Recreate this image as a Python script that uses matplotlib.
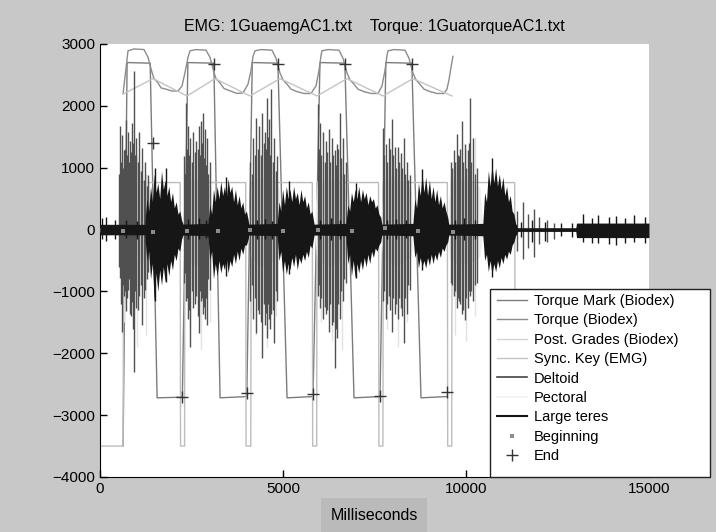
import matplotlib
matplotlib.use('Agg')
import matplotlib.pyplot as plt
from matplotlib.lines import Line2D
from matplotlib.patches import Rectangle

plt.rcParams['font.family'] = ['Liberation Sans', 'DejaVu Sans']

# ---- Biodex channels ----
# Torque Mark: square wave with End marks at the plateau ends
mark_t = [630, 740, 1370, 1560, 2250, 2400, 3110, 3280, 4010, 4160, 4860, 5110,
          5820, 6010, 6690, 6940, 7650, 7810, 8520, 8770, 9480]
mark_y = [-3500, 2700, 2690, -2720, -2710, 2700, 2690, -2720, -2700, 2700, 2690, -2720,
          -2700, 2700, 2690, -2720, -2700, 2700, 2690, -2720, -2700]

# Torque (Biodex)
torque_t = [630, 765, 929, 1202, 1311, 1421, 1475, 1585, 1667, 1803, 1967, 2131, 2240, 2322, 2404,
            2459, 2623, 2896, 3005, 3114, 3169, 3278, 3388, 3524, 3743, 3907, 4043, 4125, 4180,
            4235, 4399, 4699, 4808, 4918, 5000, 5109, 5218, 5382, 5573, 5765, 5901, 5983, 6038,
            6065, 6229, 6529, 6639, 6748, 6830, 6939, 7048, 7212, 7404, 7595, 7704, 7786, 7841,
            7868, 8032, 8333, 8442, 8551, 8633, 8742, 8852, 9016, 9207, 9398, 9480, 9535, 9590, 9644]
torque_y = [2200, 2890, 2920, 2910, 2785, 2540, 2440, 2370, 2290, 2270, 2240, 2240, 2320, 2540, 2785,
            2890, 2910, 2900, 2785, 2540, 2440, 2370, 2280, 2250, 2200, 2210, 2350, 2570, 2800,
            2890, 2910, 2900, 2770, 2530, 2420, 2350, 2270, 2230, 2200, 2200, 2320, 2570, 2810,
            2890, 2910, 2900, 2770, 2530, 2420, 2350, 2270, 2230, 2200, 2200, 2320, 2570, 2810,
            2890, 2910, 2900, 2770, 2530, 2420, 2350, 2270, 2230, 2200, 2200, 2270, 2420, 2620, 2800]

# Post. Grades (Biodex): triangle wave
grades_t = [630, 1448, 2377, 3142, 4098, 4918, 5928, 6748, 7732, 8551, 9617]
grades_y = [2190, 2440, 2160, 2440, 2160, 2440, 2160, 2440, 2160, 2440, 2160]

# Sync. Key (EMG)
sync_t = [0, 630, 650, 2190, 2200, 2310, 2320, 3980, 3990, 4120, 4130, 5800, 5810, 5920, 5930,
          7610, 7620, 7730, 7740, 9490, 9500, 9610, 9620, 11330, 11350, 15000]
sync_y = [-3500, -3500, 760, 760, -3500, -3500, 760, 760, -3500, -3500, 760, 760, -3500, -3500, 760,
          760, -3500, -3500, 760, 760, -3500, -3500, 760, 760, -3500, -3500]

# ---- EMG channels ----
# Deltoid spikes: time, peak, trough
delt_t = [520, 546, 575, 601, 630, 656, 683, 710, 738, 765, 793, 820, 847, 874, 900, 929, 957, 984,
          1025, 1065, 1106, 1147, 1188, 1229, 1270, 1311,
          2295, 2322, 2350, 2377, 2404, 2431, 2459, 2500, 2541, 2582, 2623, 2664, 2705, 2733, 2760,
          2787, 2814, 2841, 2869, 2896, 2923, 2964, 3005,
          4098, 4139, 4180, 4221, 4262, 4303, 4344, 4385, 4426, 4467, 4508, 4535, 4563, 4590, 4617,
          4645, 4672, 4713, 4754, 4795, 4836,
          5956, 5983, 6010, 6051, 6093, 6134, 6175, 6215, 6256, 6297, 6338, 6379, 6420, 6448, 6475,
          6516, 6557, 6598, 6639, 6680, 6721,
          7732, 7772, 7813, 7854, 7895, 7936, 7977, 8018, 8059, 8100, 8141, 8182, 8223, 8264, 8305,
          8346, 8387, 8428, 8469,
          9589, 9630, 9671, 9712, 9753, 9780, 9808, 9849, 9890, 9931, 9972, 10013, 10054, 10081,
          10108, 10149, 10190, 10245, 10300,
          11400, 11550, 11700, 11850, 12000, 12200, 12400]
delt_hi = [900, 1680, 1100, 1530, 1000, 1290, 1300, 1770, 1200, 1580, 1100, 1430, 1250, 1730, 1400,
           2560, 1200, 1480, 1100, 1580, 950, 1320, 800, 1090, 700, 890,
           1190, 900, 2040, 1300, 1680, 1200, 1480, 1100, 1580, 1250, 1430, 1300, 1680, 1200, 1760,
           1400, 1880, 1150, 1630, 1050, 1480, 900, 1090,
           1090, 900, 1480, 1200, 1810, 1300, 1680, 1200, 1880, 1400, 1580, 1300, 2130, 1500, 1780,
           1200, 2270, 1100, 1480, 950, 1190,
           2030, 1300, 1730, 1200, 1580, 1100, 1430, 1250, 1630, 1100, 1480, 1200, 1290, 1050, 1380,
           1300, 1880, 1150, 1480, 900, 1090,
           1640, 1200, 1380, 1100, 1480, 1300, 1780, 1200, 1330, 1000, 1330, 1100, 1240, 1000, 1480,
           900, 1090, 800, 890,
           1090, 1000, 1290, 1100, 1540, 1200, 1190, 1300, 1760, 1100, 1380, 1000, 1290, 1400,
           2130, 1100, 1480, 900, 990,
           300, 440, 250, 340, 200, 150, 100]
delt_lo = [-600, -780, -1200, -1650, -900, -1070, -1000, -1310, -1100, -970, -800, -1360, -1400, -1170,
           -1600, -2300, -1000, -1260, -1300, -1070, -900, -1550, -1100, -970, -800, -680,
           -870, -700, -1160, -1100, -1450, -1300, -1900, -1000, -1260, -1200, -1070, -1400, -1680,
           -1000, -1160, -1100, -1360, -1250, -1450, -1100, -1550, -800, -970,
           -1160, -900, -1450, -1100, -1680, -1300, -1360, -1500, -2080, -1200, -1550, -1350, -1750,
           -1200, -1450, -1600, -1360, -1300, -1840, -1000, -1160,
           -1070, -900, -1260, -1100, -1450, -1250, -1360, -1300, -1650, -1200, -1550, -1500, -2230,
           -1600, -1750, -1200, -1450, -1000, -1160, -800, -870,
           -1160, -1000, -1450, -1200, -1070, -1300, -1650, -1100, -1360, -1200, -1450, -1100, -1260,
           -1400, -1830, -1100, -1360, -900, -970,
           -870, -900, -1070, -1000, -1260, -1100, -1160, -1200, -1360, -1300, -1470, -1100, -1260,
           -1000, -1070, -1000, -1160, -900, -870,
           -340, -480, -290, -440, -240, -200, -150]

# Pectoral envelope and spikes
pect_t = [0, 480, 560, 800, 1100, 1330, 1420,
          2250, 2330, 2570, 2840, 3030, 3110,
          4050, 4130, 4400, 4670, 4890, 4970,
          5850, 5930, 6200, 6480, 6690, 6770,
          7660, 7740, 8010, 8290, 8500, 8580,
          9480, 9560, 9830, 10100, 10380, 10460,
          11400, 15000]
pect_hi = [40, 60, 700, 790, 770, 740, 60,
           60, 780, 830, 780, 690, 60,
           60, 790, 830, 790, 690, 60,
           60, 790, 830, 790, 690, 60,
           60, 790, 830, 790, 690, 60,
           60, 790, 830, 790, 690, 60,
           40, 20]
pect_lo = [-40, -60, -450, -580, -540, -500, -60,
           -60, -480, -580, -540, -440, -60,
           -60, -480, -580, -540, -440, -60,
           -60, -480, -580, -540, -440, -60,
           -60, -480, -580, -540, -440, -60,
           -60, -480, -580, -540, -440, -60,
           -40, -20]
pspk_t = [650, 1000, 1250, 2450, 2750, 3000, 4250, 4550, 4800,
          6050, 6350, 6600, 7850, 8150, 8400, 9700, 10000, 10250]
pspk_hi = [1000, 1200, 900, 1100, 1300, 1000, 1200, 1000, 900,
           1100, 1300, 900, 1000, 1200, 900, 1100, 1300, 1500]
pspk_lo = [-1500, -1900, -1700, -1600, -1950, -1500, -1700, -1900, -1400,
           -1500, -1800, -1950, -1600, -1900, -1500, -1700, -1800, -1400]

# Large teres: baseline band, ragged bursts, extra spikes
base_t = [0, 11380, 11400, 13000, 13020, 15000]
base_hi = [85, 85, 30, 30, 105, 105]
base_lo = [-85, -85, -30, -30, -130, -130]

burst_t = [1230, 1280, 1330, 1380, 1430, 1480, 1530, 1580, 1630, 1680, 1730, 1780, 1830, 1880,
           1930, 1980, 2030, 2080, 2130, 2180, 2230, 2270,
           2950, 3000, 3050, 3100, 3150, 3200, 3250, 3300, 3350, 3400, 3450, 3500, 3550, 3600,
           3650, 3700, 3750, 3800, 3850, 3900, 3950, 4000, 4050, 4070,
           4840, 4890, 4940, 4990, 5040, 5090, 5140, 5190, 5240, 5290, 5340, 5390, 5440, 5490,
           5540, 5590, 5640, 5690, 5740, 5790, 5850,
           6720, 6770, 6820, 6870, 6920, 6970, 7020, 7070, 7120, 7170, 7220, 7270, 7320, 7370,
           7420, 7470, 7520, 7570, 7620, 7670, 7700,
           8550, 8600, 8650, 8700, 8750, 8800, 8850, 8900, 8950, 9000, 9050, 9100, 9150, 9200,
           9250, 9300, 9350, 9400, 9450, 9500, 9530,
           10460, 10510, 10560, 10610, 10660, 10710, 10760, 10810, 10860, 10910, 10960, 11010,
           11060, 11110, 11160, 11210, 11260, 11310, 11360]
burst_hi = [150, 500, 300, 700, 450, 900, 600, 750, 500, 950, 650, 800, 550, 700,
            450, 600, 350, 450, 250, 300, 150, 85,
            100, 400, 250, 650, 450, 700, 500, 780, 550, 700, 500, 820, 600, 700,
            450, 650, 400, 550, 350, 450, 250, 300, 150, 85,
            100, 450, 300, 650, 400, 700, 500, 650, 450, 700, 500, 600, 400, 650,
            450, 550, 350, 450, 250, 300, 85,
            100, 400, 300, 600, 450, 650, 500, 700, 450, 650, 500, 600, 400, 550,
            450, 500, 350, 400, 250, 200, 85,
            100, 500, 350, 750, 550, 900, 600, 850, 550, 800, 500, 700, 450, 650,
            400, 550, 350, 450, 300, 200, 85,
            100, 600, 450, 950, 700, 1050, 750, 1000, 700, 900, 650, 850,
            550, 700, 450, 550, 300, 250, 85]
burst_lo = [-150, -500, -350, -800, -550, -1150, -700, -1000, -650, -900, -600, -850, -550, -750,
            -500, -650, -400, -500, -300, -350, -150, -85,
            -100, -500, -350, -800, -550, -750, -500, -700, -550, -650, -450, -700, -500, -600,
            -400, -550, -350, -500, -300, -400, -250, -250, -150, -85,
            -100, -500, -350, -700, -500, -720, -550, -650, -450, -600, -400, -650, -450, -550,
            -400, -500, -350, -450, -250, -300, -85,
            -100, -550, -400, -750, -500, -780, -550, -700, -500, -650, -450, -600, -400, -550,
            -350, -450, -300, -350, -250, -200, -85,
            -100, -450, -350, -620, -450, -600, -500, -620, -450, -580, -400, -550, -400, -500,
            -350, -450, -300, -350, -250, -200, -85,
            -100, -500, -400, -680, -500, -720, -550, -680, -500, -620, -450, -550,
            -400, -480, -350, -400, -250, -200, -85]

tspk_t = [1500, 1800, 3450, 5150, 7000, 8800, 10700,
          60, 150, 400, 700, 1000, 2400, 2700, 2900, 4300, 4500, 4700, 6000, 6300, 6550,
          7850, 8100, 8350, 9700, 9950, 10250, 11500, 11800, 12150, 12600, 12900,
          13200, 13450, 13600, 13900, 14100, 14350, 14600, 14900]
tspk_hi = [1000, 1000, 850, 780, 760, 980, 1150,
           180, 200, 150, 160, 140, 170, 180, 150, 160, 170, 140, 150, 180, 160,
           150, 170, 150, 160, 180, 150, 120, 150, 120, 100, 100,
           250, 180, 230, 200, 220, 190, 240, 200]
tspk_lo = [-1150, -850, -750, -720, -780, -650, -760,
           -160, -180, -150, -140, -160, -150, -160, -140, -150, -150, -160, -150, -170, -150,
           -160, -160, -140, -150, -170, -150, -120, -200, -180, -100, -120,
           -200, -220, -220, -240, -250, -210, -200, -220]

# Event markers
begin_t = [630, 1450, 2380, 3225, 4100, 5000, 5960, 6890, 7790, 8690, 9650]
begin_y = [-20, -45, -30, -20, -10, -25, -15, -25, 20, -25, -40]
end_t = [1450, 2240, 3110, 4010, 4860, 5820, 6690, 7650, 8520, 9480]
end_y = [1400, -2700, 2680, -2640, 2680, -2660, 2680, -2690, 2680, -2630]

fig = plt.figure(figsize=(7.16, 5.32), dpi=100, facecolor='#c8c8c8')
ax = fig.add_axes([0.1397, 0.1034, 0.7667, 0.8139])

ax.plot(mark_t, mark_y, color='#7c7c7c', lw=1, zorder=2)
ax.plot(torque_t, torque_y, color='#8c8c8c', lw=1, zorder=2)
ax.plot(grades_t, grades_y, color='#c4c4c4', lw=1, zorder=2)
ax.plot(sync_t, sync_y, color='#bdbdbd', lw=1, zorder=2)

ax.fill_between(pect_t, pect_lo, pect_hi, color='#eeeeee', lw=0, zorder=3)
ax.vlines(pspk_t, pspk_lo, pspk_hi, color='#e2e2e2', lw=1, zorder=3)
ax.vlines(delt_t, delt_lo, delt_hi, color='#505050', lw=1, zorder=4)
ax.fill_between(base_t, base_lo, base_hi, color='#161616', lw=0, zorder=5)
ax.fill_between(burst_t, burst_lo, burst_hi, color='#161616', lw=0, zorder=5)
ax.vlines(tspk_t, tspk_lo, tspk_hi, color='#161616', lw=1, zorder=5)

ax.plot(begin_t, begin_y, 's', color='#8c8c8c', ms=3, mew=0, zorder=6)
ax.plot(end_t, end_y, '+', color='#333333', ms=9, mew=1, zorder=6)

ax.set_xlim(0, 15000)
ax.set_ylim(-4000, 3000)
ax.set_xticks([0, 5000, 10000, 15000])
ax.set_yticks(range(-4000, 3001, 1000))
ax.tick_params(direction='in', length=5, labelsize=11, width=1)
ax.spines['top'].set_visible(False)
ax.spines['right'].set_visible(False)

fig.text(374 / 716, 1 - 27 / 532, 'EMG: 1GuaemgAC1.txt    Torque: 1GuatorqueAC1.txt',
         ha='center', va='center', fontsize=11.5)
fig.text(374 / 716, 1 - 515 / 532, 'Milliseconds', ha='center', va='center', fontsize=11.5,
         bbox=dict(facecolor='#bababa', edgecolor='none', pad=7))

# legend box sits partly outside the axes
fig.add_artist(Rectangle((490 / 716, 1 - 477 / 532), 220 / 716, 188 / 532,
                         transform=fig.transFigure, facecolor='white',
                         edgecolor='#222222', lw=1, zorder=3))
handles = [Line2D([], [], color='#7c7c7c', lw=1),
           Line2D([], [], color='#8c8c8c', lw=1),
           Line2D([], [], color='#d4d4d4', lw=1),
           Line2D([], [], color='#c4c4c4', lw=1),
           Line2D([], [], color='#444444', lw=1.2),
           Line2D([], [], color='#f0f0f0', lw=1.2),
           Line2D([], [], color='#161616', lw=1.5),
           Line2D([], [], ls='none', marker='s', color='#8c8c8c', ms=3, mew=0),
           Line2D([], [], ls='none', marker='+', color='#333333', ms=9, mew=1)]
labels = ['Torque Mark (Biodex)', 'Torque (Biodex)', 'Post. Grades (Biodex)', 'Sync. Key (EMG)',
          'Deltoid', 'Pectoral', 'Large teres', 'Beginning', 'End']
fig.legend(handles, labels, loc='upper left', bbox_to_anchor=(497 / 716, 1 - 294 / 532),
           frameon=False, fontsize=10.5, borderpad=0, borderaxespad=0,
           handlelength=2.05, handletextpad=0.5, labelspacing=0.37)

fig.savefig('out.png', dpi=100, facecolor=fig.get_facecolor())
